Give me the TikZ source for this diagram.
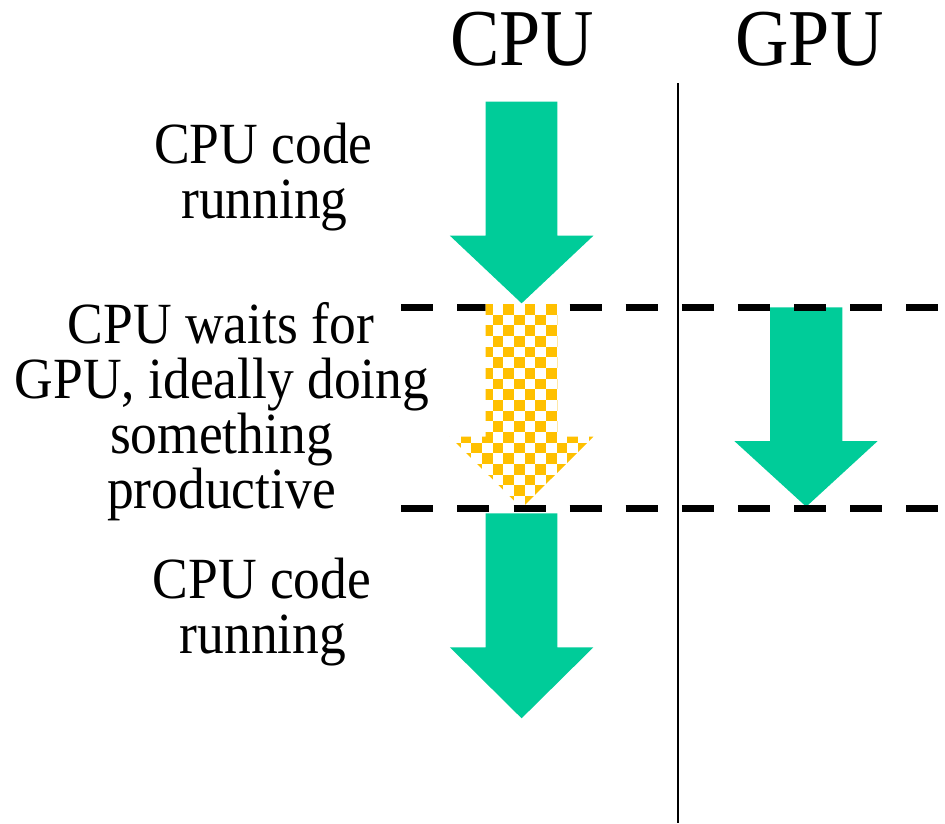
\documentclass[tikz,border=0pt]{standalone}
\usepackage{fontspec}
\setmainfont{Liberation Serif}
\definecolor{arrgreen}{HTML}{00CC99}
\definecolor{chkyellow}{HTML}{FFC000}
\tikzset{
  txt/.style={font=\fontsize{53.5}{60}\selectfont, inner sep=0pt, yscale=1.09, anchor=base},
  head/.style={font=\fontsize{74}{80}\selectfont, inner sep=0pt, yscale=1.09, anchor=base},
  greenarrow/.style={fill=arrgreen, draw=none},
  dashline/.style={line width=7.2pt, dash pattern=on 32pt off 24.1pt, line cap=butt},
}
\begin{document}
\begin{tikzpicture}[x=1pt,y=-1pt]
\useasboundingbox (0,0) rectangle (945,823);
% headings
\node[head] (hcpu) at (522,65) {CPU};
\node[head] (hgpu) at (809.5,65) {GPU};
% divider
\coordinate (vtop) at (678,83);
\coordinate (vbot) at (678,823);
\draw[line width=2pt] (vtop) -- (vbot);
% left texts
\node[txt] (t1a) at (263.5,163.3) {CPU code};
\node[txt] (t1b) at (264.5,218.3) {running};
\node[txt] (t2a) at (221,343.3) {CPU waits for};
\node[txt] (t2b) at (222,398.5) {GPU, ideally doing};
\node[txt] (t2c) at (221.5,453.5) {something};
\node[txt] (t2d) at (221.5,508.3) {productive};
\node[txt] (t3a) at (262,598.3) {CPU code};
\node[txt] (t3b) at (263,653.3) {running};
% CPU arrow 1
\fill[greenarrow] (485.7,101.7) -- (557.3,101.7) -- (557.3,235.7) -- (593.4,235.7)
  -- (521.6,303.3) -- (449.9,235.7) -- (485.7,235.7) -- cycle;
% GPU arrow
\fill[greenarrow] (770.2,307.3) -- (842.3,307.3) -- (842.3,441) -- (877.7,441)
  -- (806.2,506.7) -- (734.3,441) -- (770.2,441) -- cycle;
% top dashed line
\coordinate (d1s) at (401.3,307.5);
\coordinate (d1e) at (937.6,307.5);
\draw[dashline] (d1s) -- (d1e);
% checkered waiting arrow
\begin{scope}
\clip (485.7,304) -- (557.3,304) -- (557.3,436.7) -- (593.4,436.7)
  -- (521.6,508.3) -- (449.9,436.7) -- (485.7,436.7) -- cycle;
\fill[white] (440,300) rectangle (600,512);
\foreach \j in {0,...,19}{
  \pgfmathsetmacro{\off}{mod(\j+1,2)}
  \foreach \k in {-3,...,5}{
    \pgfmathsetmacro{\xx}{492.7+10.67*(2*\k+\off)}
    \pgfmathsetmacro{\yy}{304+10.67*\j}
    \fill[chkyellow] (\xx,\yy) rectangle ++(10.67,10.67);
  }
}
\end{scope}
% bottom dashed line
\coordinate (d2s) at (401.3,508.8);
\coordinate (d2e) at (937.6,508.8);
\draw[dashline] (d2s) -- (d2e);
% CPU arrow 2
\fill[greenarrow] (485.7,513.3) -- (557.3,513.3) -- (557.3,647.3) -- (593.4,647.3)
  -- (521.6,718.3) -- (449.9,647.3) -- (485.7,647.3) -- cycle;
\end{tikzpicture}
\end{document}
